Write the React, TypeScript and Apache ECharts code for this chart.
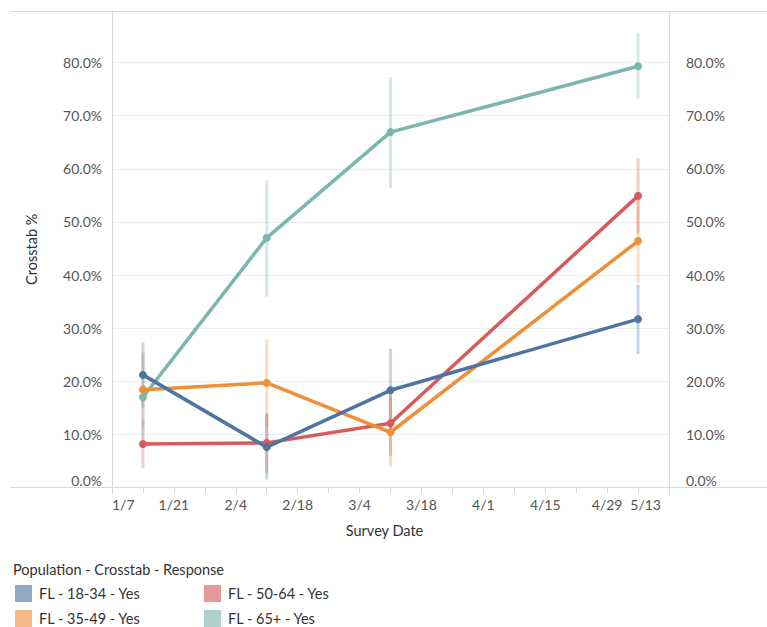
import React, { useEffect, useRef } from "react";
import * as echarts from "echarts";

const axisStart = "2021-01-07";
const axisEnd = "2021-05-13";
const surveyDates = ["2021-01-14", "2021-02-11", "2021-03-11", "2021-05-06"];

const seriesNames = ["FL - 18-34 - Yes", "FL - 35-49 - Yes", "FL - 50-64 - Yes", "FL - 65+ - Yes"];
const seriesColors = ["#4f74a2", "#ed9038", "#d85b5b", "#7bb6b0"];

const values18_34 = [21.2, 7.6, 18.3, 31.7];
const values35_49 = [18.4, 19.7, 10.4, 46.4];
const values50_64 = [8.2, 8.4, 12.1, 54.9];
const values65 = [17.0, 47.0, 66.9, 79.3];

const low18_34 = [15.0, 1.5, 10.5, 25.1];
const high18_34 = [27.3, 13.8, 26.1, 38.2];
const low35_49 = [11.4, 11.5, 3.9, 38.5];
const high35_49 = [25.5, 27.9, 17.0, 54.3];
const low50_64 = [3.6, 2.8, 6.0, 47.8];
const high50_64 = [12.8, 14.0, 18.2, 62.0];
const low65 = [9.0, 35.9, 56.4, 73.2];
const high65 = [25.0, 57.9, 77.3, 85.6];

const yTickValues = [0, 10, 20, 30, 40, 50, 60, 70, 80];
const yMax = 89.7;

const DAY = 86400000;
const toUTC = (s: string) => {
  const [y, m, d] = s.split("-").map(Number);
  return Date.UTC(y, m - 1, d);
};
const startMs = toUTC(axisStart);
const dayOffset = (s: string) => Math.round((toUTC(s) - startMs) / DAY);
const dayLabel = (v: number) => {
  const dt = new Date(startMs + v * DAY);
  return `${dt.getUTCMonth() + 1}/${dt.getUTCDate()}`;
};

export default function App() {
  const ref = useRef<HTMLDivElement>(null);
  useEffect(() => {
    if (!ref.current) return;
    const chart = echarts.init(ref.current, undefined, { renderer: "svg" });
    const xs = surveyDates.map(dayOffset);
    const xMax = dayOffset(axisEnd);
    const allValues = [values18_34, values35_49, values50_64, values65];
    const lows = [low18_34, low35_49, low50_64, low65];
    const highs = [high18_34, high35_49, high50_64, high65];
    const font = "Lato, 'Noto Sans', sans-serif";

    const errorSeries = seriesNames.map((name, i) => ({
      type: "custom",
      name: "err-" + name,
      z: 1,
      silent: true,
      data: xs.map((x, k) => [x, lows[i][k], highs[i][k]]),
      renderItem: (params: any, api: any) => {
        const x = api.value(0);
        const p1 = api.coord([x, api.value(1)]);
        const p2 = api.coord([x, api.value(2)]);
        return {
          type: "line",
          shape: { x1: p1[0], y1: p1[1], x2: p2[0], y2: p2[1] },
          style: { stroke: seriesColors[i], lineWidth: 3, opacity: 0.3 },
        };
      },
    }));

    const order = [3, 2, 1, 0];
    const lineSeries = order.map((i) => ({
      type: "line",
      name: seriesNames[i],
      z: 3,
      data: xs.map((x, k) => [x, allValues[i][k]]),
      symbol: "circle",
      symbolSize: 8,
      color: seriesColors[i],
      lineStyle: { width: 3.5, color: seriesColors[i] },
      itemStyle: { color: seriesColors[i] },
    }));

    const legendPos = [
      [15, 585],
      [15, 610],
      [204, 585],
      [204, 610],
    ];
    const legends = seriesNames.map((name, i) => ({
      orient: "horizontal",
      left: legendPos[i][0],
      top: legendPos[i][1],
      padding: 0,
      itemWidth: 17,
      itemHeight: 17,
      icon: "rect",
      selectedMode: false,
      itemStyle: { opacity: 0.62 },
      textStyle: { fontFamily: font, fontSize: 14.5, color: "#333", padding: [0, 0, 0, 2] },
      data: [name],
    }));

    const yLabelFmt = (v: number) =>
      yTickValues.includes(Math.round(v)) && v < 85 ? v.toFixed(1) + "%" : "";

    const frame = "#d9d9d9";
    chart.setOption({
      animation: false,
      backgroundColor: "#fff",
      title: {
        text: "Population - Crosstab - Response",
        left: 8,
        top: 557,
        textStyle: { fontFamily: font, fontSize: 14.5, fontWeight: "normal", color: "#333" },
      },
      legend: legends,
      grid: { left: 112, right: 98, top: 11, bottom: 139.5, containLabel: false },
      xAxis: {
        type: "value",
        min: 0,
        max: xMax,
        interval: 7,
        name: "Survey Date",
        nameLocation: "middle",
        nameGap: 35,
        nameTextStyle: { fontFamily: font, fontSize: 14.5, color: "#333", padding: [0, 12, 0, 0] },
        axisLine: { show: false },
        axisTick: { show: true, length: 6, lineStyle: { color: frame } },
        splitLine: { show: false },
        axisLabel: {
          margin: 10,
          fontFamily: font,
          fontSize: 14,
          color: "#555",
          alignMinLabel: "left",
          alignMaxLabel: "right",
          rich: {
            e: { fontFamily: font, fontSize: 14, color: "#555", padding: [0, 8, 0, 0] },
          },
          formatter: (v: number) =>
            v === xMax ? `{e|${dayLabel(v)}}` : v % 14 === 0 ? dayLabel(v) : "",
        },
      },
      yAxis: [
        {
          type: "value",
          min: 0,
          max: yMax,
          interval: 10,
          position: "left",
          name: "Crosstab %",
          nameLocation: "middle",
          nameGap: 73,
          nameRotate: 90,
          nameTextStyle: { fontFamily: font, fontSize: 14.5, color: "#333" },
          axisLine: { show: false },
          axisTick: { show: false },
          splitLine: { show: true, lineStyle: { color: "#eeeeee" } },
          axisLabel: {
            margin: 10,
            fontFamily: font,
            fontSize: 14,
            color: "#555",
            verticalAlignMinLabel: "bottom",
            formatter: yLabelFmt,
          },
        },
        {
          type: "value",
          min: 0,
          max: yMax,
          interval: 10,
          position: "right",
          axisLine: { show: false },
          axisTick: { show: false },
          splitLine: { show: false },
          axisLabel: {
            margin: 17,
            fontFamily: font,
            fontSize: 14,
            color: "#555",
            verticalAlignMinLabel: "bottom",
            formatter: yLabelFmt,
          },
        },
      ],
      graphic: [
        { type: "line", shape: { x1: 10, y1: 11.5, x2: 767, y2: 11.5 }, style: { stroke: frame, lineWidth: 1 }, z: 10 },
        { type: "line", shape: { x1: 10, y1: 487.5, x2: 767, y2: 487.5 }, style: { stroke: frame, lineWidth: 1 }, z: 10 },
        { type: "line", shape: { x1: 112.5, y1: 11, x2: 112.5, y2: 494 }, style: { stroke: frame, lineWidth: 1 }, z: 10 },
        { type: "line", shape: { x1: 669.5, y1: 11, x2: 669.5, y2: 494 }, style: { stroke: frame, lineWidth: 1 }, z: 10 },
      ],
      series: [...errorSeries, ...lineSeries],
    });
    return () => chart.dispose();
  }, []);
  return <div ref={ref} style={{ position: "fixed", left: 0, top: 0, width: 767, height: 627 }} />;
}
